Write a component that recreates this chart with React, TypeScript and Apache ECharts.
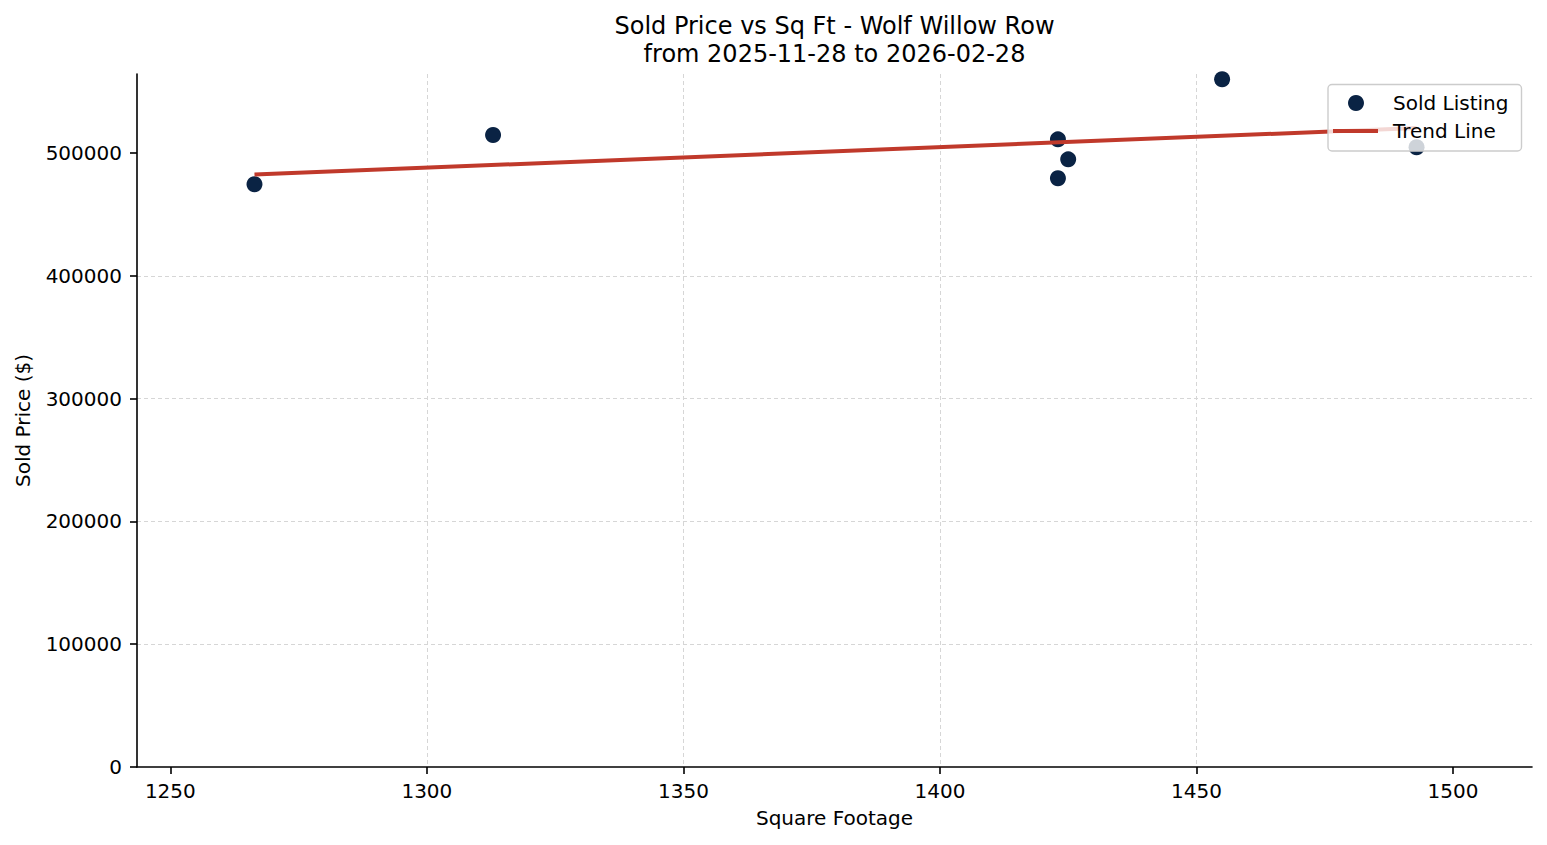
import React, { useEffect, useRef } from "react";
import * as echarts from "echarts";

const sqft = [1266.4, 1312.9, 1423.0, 1423.0, 1425.0, 1455.0, 1492.9];
const soldPrice = [474700, 514800, 511300, 479600, 495000, 560200, 504800];
const trendSqft = [1266.4, 1492.9];
const trendPrice = [482600, 520500];
const xTicks = [1250, 1300, 1350, 1400, 1450, 1500];
const yTicks = [0, 100000, 200000, 300000, 400000, 500000];

const FONT = "DejaVu Sans";

export default function App() {
  const ref = useRef<HTMLDivElement>(null);
  useEffect(() => {
    if (!ref.current) return;
    const chart = echarts.init(ref.current, null, { renderer: "svg" });
    const scatterData = sqft.map((x, i) => [x, soldPrice[i]]);
    const trendData = trendSqft.map((x, i) => [x, trendPrice[i]]);
    const axisCommon = {
      axisLine: { show: true, lineStyle: { color: "#000", width: 1.6 } },
      axisTick: { show: true, length: 7, inside: false, lineStyle: { color: "#000", width: 1.6 } },
      splitLine: {
        show: true,
        showMinLine: false,
        showMaxLine: false,
        lineStyle: { color: "#d6d6d6", width: 1, type: [4, 3] },
      },
    };
    chart.setOption({
      animation: false,
      backgroundColor: "#fff",
      textStyle: { fontFamily: FONT },
      title: {
        text: "Sold Price vs Sq Ft - Wolf Willow Row\nfrom 2025-11-28 to 2026-02-28",
        left: 834.5,
        top: 12,
        textAlign: "center",
        padding: 0,
        textStyle: { fontFamily: FONT, fontSize: 24, fontWeight: "normal", color: "#000", lineHeight: 28 },
      },
      grid: { left: 137, right: 15, top: 74, bottom: 78, containLabel: false },
      xAxis: {
        type: "value",
        min: 1243.5,
        max: 1515.4,
        name: "Square Footage",
        nameLocation: "middle",
        nameGap: 41,
        nameTextStyle: { fontFamily: FONT, fontSize: 20, color: "#000" },
        ...axisCommon,
        axisTick: { ...axisCommon.axisTick, customValues: xTicks },
        axisLabel: {
          customValues: xTicks,
          margin: 14,
          fontFamily: FONT,
          fontSize: 20,
          color: "#000",
          formatter: (v: number) => String(v),
        },
      },
      yAxis: {
        type: "value",
        min: 0,
        max: 564500,
        name: "Sold Price ($)",
        nameLocation: "middle",
        nameGap: 104,
        nameRotate: 90,
        nameTextStyle: { fontFamily: FONT, fontSize: 20, color: "#000" },
        ...axisCommon,
        axisTick: { ...axisCommon.axisTick, customValues: yTicks },
        axisLabel: {
          customValues: yTicks,
          margin: 15,
          fontFamily: FONT,
          fontSize: 20,
          color: "#000",
          formatter: (v: number) => String(v),
        },
      },
      legend: [
        {
          data: [{ name: "Sold Listing", icon: "circle" }],
          left: 1348,
          top: 93,
          padding: 0,
          itemWidth: 16,
          itemHeight: 16,
          textStyle: { fontFamily: FONT, fontSize: 20, color: "#000", padding: [0, 0, 0, 24] },
        },
        {
          data: [{ name: "Trend Line", icon: "rect", itemStyle: { color: "#c0392b" } }],
          left: 1333,
          top: 121,
          padding: 0,
          itemWidth: 45,
          itemHeight: 4,
          textStyle: { fontFamily: FONT, fontSize: 20, color: "#000", padding: [0, 0, 0, 10] },
        },
      ],
      graphic: [
        {
          type: "rect",
          z: 3,
          shape: { x: 1328, y: 84.5, width: 193.5, height: 66.5, r: 4 },
          style: { fill: "rgba(255,255,255,0.8)", stroke: "#cccccc", lineWidth: 1.4 },
        },
      ],
      series: [
        {
          name: "Sold Listing",
          type: "scatter",
          data: scatterData,
          symbol: "circle",
          symbolSize: 16,
          itemStyle: { color: "#0a2344", opacity: 1 },
          z: 2,
        },
        {
          name: "Trend Line",
          type: "line",
          data: trendData,
          showSymbol: false,
          symbol: "none",
          lineStyle: { color: "#c0392b", width: 4 },
          itemStyle: { color: "#c0392b" },
          z: 2.5,
        },
      ],
    });
    return () => chart.dispose();
  }, []);
  return (
    <div
      ref={ref}
      style={{ position: "fixed", left: 0, top: 0, width: "1547px", height: "845px", background: "#fff" }}
    />
  );
}
